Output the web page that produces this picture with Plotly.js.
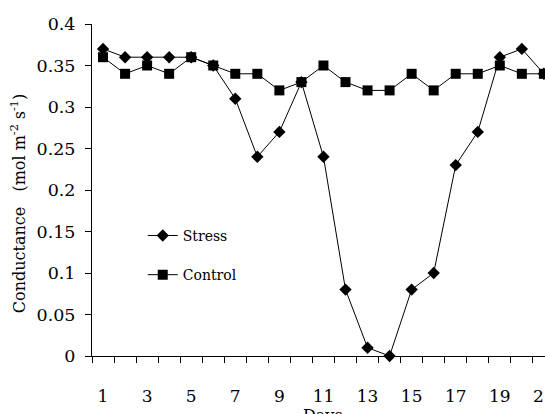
<!DOCTYPE html>
<html>
<head>
<meta charset="utf-8">
<script src="https://cdn.plot.ly/plotly-3.0.1.min.js"></script>
<style>
html, body { margin: 0; padding: 0; background: #fff; overflow: hidden; }
#chart { width: 545px; height: 414px; }
</style>
</head>
<body>
<div id="chart"></div>
<script>
const days = [1,2,3,4,5,6,7,8,9,10,11,12,13,14,15,16,17,18,19,20,21];
const stress = [0.37,0.36,0.36,0.36,0.36,0.35,0.31,0.24,0.27,0.33,0.24,0.08,0.01,0.00,0.08,0.10,0.23,0.27,0.36,0.37,0.34];
const control = [0.36,0.34,0.35,0.34,0.36,0.35,0.34,0.34,0.32,0.33,0.35,0.33,0.32,0.32,0.34,0.32,0.34,0.34,0.35,0.34,0.34];
const xTickVals = [1,3,5,7,9,11,13,15,17,19,21];
const xTickText = ['1','3','5','7','9','11','13','15','17','19','21'];
const yTickVals = [0,0.05,0.1,0.15,0.2,0.25,0.3,0.35,0.4];
const yTickText = ['0','0.05','0.1','0.15','0.2','0.25','0.3','0.35','0.4'];
const boundaries = days.map(d => d - 0.5).concat([days[days.length-1] + 0.5]);

const FONT = 'DejaVu Serif';

const traces = [
  {
    x: days, y: stress, name: 'Stress', type: 'scatter', mode: 'lines+markers',
    legendgroup: 'a',
    line: {color: '#000', width: 1},
    marker: {symbol: 'diamond', size: 9.5, color: '#000'},
    cliponaxis: false
  },
  {
    x: days, y: control, name: 'Control', type: 'scatter', mode: 'lines+markers',
    legendgroup: 'b',
    line: {color: '#000', width: 1},
    marker: {symbol: 'square', size: 10, color: '#000'},
    cliponaxis: false
  }
];

const layout = {
  width: 545, height: 414,
  margin: {l: 92, r: 0, t: 24, b: 58},
  paper_bgcolor: '#fff', plot_bgcolor: '#fff',
  font: {family: FONT, size: 16, color: '#000'},
  showlegend: true,
  legend: {
    x: 0.112, y: 0.41, xanchor: 'left', yanchor: 'top',
    bgcolor: 'rgba(0,0,0,0)', borderwidth: 0,
    traceorder: 'grouped', tracegroupgap: 18,
    font: {family: FONT, size: 14, color: '#000'}
  },
  xaxis: {
    range: [0.5, 21.05],
    tickmode: 'array', tickvals: xTickVals, ticktext: xTickText,
    ticks: '', showgrid: false, zeroline: false,
    showline: true, linecolor: '#000', linewidth: 1,
    ticklabelstandoff: 25, ticklabeloverflow: 'allow',
    tickfont: {family: FONT, size: 17, color: '#000'},
    minor: {tickmode: 'array', tickvals: boundaries, ticks: 'outside', ticklen: 6, tickcolor: '#000', tickwidth: 1, showgrid: false}
  },
  yaxis: {
    range: [0, 0.4],
    tickmode: 'array', tickvals: yTickVals, ticktext: yTickText,
    ticks: 'outside', ticklen: 6, tickcolor: '#000', tickwidth: 1,
    showgrid: false, zeroline: false,
    showline: true, linecolor: '#000', linewidth: 1,
    ticklabelstandoff: 6,
    tickfont: {family: FONT, size: 17.5, color: '#000'}
  },
  annotations: [
    {
      text: 'Conductance\u00a0\u00a0\u00a0(mol m<sup>-2</sup> s<sup>-1</sup>)',
      xref: 'paper', yref: 'paper', x: -0.162, y: 0.459,
      xanchor: 'center', yanchor: 'middle', textangle: -90, showarrow: false,
      font: {family: FONT, size: 16, color: '#000'}
    },
    {
      text: 'Days', xref: 'paper', yref: 'paper', x: 0.51, y: -0.145,
      xanchor: 'center', yanchor: 'top', showarrow: false,
      font: {family: FONT, size: 16, color: '#000'}
    }
  ]
};

Plotly.newPlot('chart', traces, layout, {displayModeBar: false, staticPlot: true});
</script>
</body>
</html>
